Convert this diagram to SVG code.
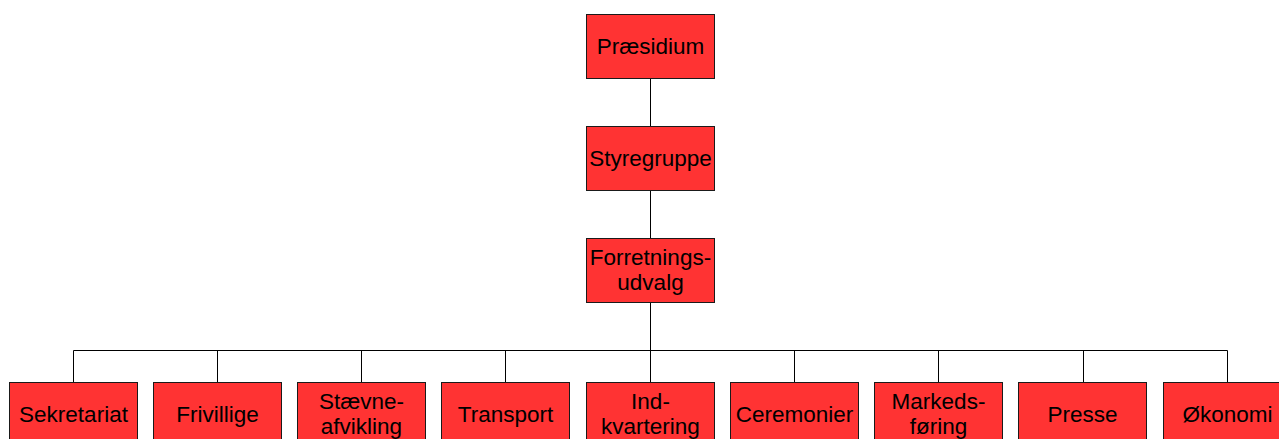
<svg xmlns="http://www.w3.org/2000/svg" width="1279" height="439" viewBox="0 0 1279 439">
<style>
.box{fill:#ff3333;stroke:#1a1a1a;stroke-width:1}
.t{font-family:"Liberation Sans",Arial,sans-serif;font-size:22.5px;fill:#000;text-anchor:middle}
.c{stroke:#000;stroke-width:1;fill:none}
</style>
<rect width="1279" height="439" fill="#fff"/>
<g id="connectors">
<path class="c" d="M650.5 78V126M650.5 190V238M650.5 302V350.5M73.5 350.5H1227.5M73.5 350.5V382M217.5 350.5V382M361.5 350.5V382M505.5 350.5V382M650.5 350.5V382M794.5 350.5V382M938.5 350.5V382M1083.5 350.5V382M1227.5 350.5V382"/>
</g>
<g id="praesidium"><rect class="box" x="586.5" y="14.5" width="128" height="64"/><text class="t" x="650.5" y="54">Præsidium</text></g>
<g id="styregruppe"><rect class="box" x="586.5" y="126.5" width="128" height="64"/><text class="t" x="650.5" y="166">Styregruppe</text></g>
<g id="forretningsudvalg"><rect class="box" x="586.5" y="238.5" width="128" height="64"/><text class="t" x="650.5" y="265">Forretnings-</text><text class="t" x="650.5" y="290">udvalg</text></g>
<g id="sekretariat"><rect class="box" x="9.5" y="382.5" width="128" height="64"/><text class="t" x="73.5" y="422">Sekretariat</text></g>
<g id="frivillige"><rect class="box" x="153.5" y="382.5" width="128" height="64"/><text class="t" x="217.5" y="422">Frivillige</text></g>
<g id="staevneafvikling"><rect class="box" x="297.5" y="382.5" width="128" height="64"/><text class="t" x="361.5" y="409">Stævne-</text><text class="t" x="361.5" y="434">afvikling</text></g>
<g id="transport"><rect class="box" x="441.5" y="382.5" width="128" height="64"/><text class="t" x="505.5" y="422">Transport</text></g>
<g id="indkvartering"><rect class="box" x="586.5" y="382.5" width="128" height="64"/><text class="t" x="650.5" y="409">Ind-</text><text class="t" x="650.5" y="434">kvartering</text></g>
<g id="ceremonier"><rect class="box" x="730.5" y="382.5" width="128" height="64"/><text class="t" x="794.5" y="422">Ceremonier</text></g>
<g id="markedsfoering"><rect class="box" x="874.5" y="382.5" width="128" height="64"/><text class="t" x="938.5" y="409">Markeds-</text><text class="t" x="938.5" y="434">føring</text></g>
<g id="presse"><rect class="box" x="1018.5" y="382.5" width="128" height="64"/><text class="t" x="1082.5" y="422">Presse</text></g>
<g id="oekonomi"><rect class="box" x="1163.5" y="382.5" width="128" height="64"/><text class="t" x="1227.5" y="422">Økonomi</text></g>
</svg>
